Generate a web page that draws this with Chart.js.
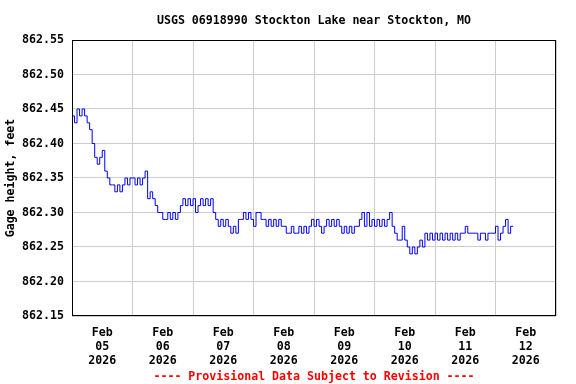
<!DOCTYPE html>
<html>
<head>
<meta charset="utf-8">
<script src="https://cdn.jsdelivr.net/npm/chart.js@4/dist/chart.umd.min.js"></script>
<style>
  html, body { margin: 0; padding: 0; background: #fff; }
  #gageChart { display: block; }
</style>
</head>
<body>
<canvas id="gageChart" width="576" height="384"></canvas>
<script>
/* Texts */
const siteTitle = 'USGS 06918990 Stockton Lake near Stockton, MO';
const yAxisLabel = 'Gage height, feet';
const footNote = '---- Provisional Data Subject to Revision ----';
const monthLabel = 'Feb';
const yearLabel = '2026';

// x axis: hours since Feb 05 2026 00:00, one label per day (at noon)
const dayLabels = ['05', '06', '07', '08', '09', '10', '11', '12'];
const yTicks = [862.15, 862.20, 862.25, 862.30, 862.35, 862.40, 862.45, 862.50, 862.55];

// gage height, one value per hour from Feb 05 00:00,
// in hundredths of a foot above 862 ft
const gageHundredths = [
  44, 43, 45, 44, 45, 44, 43, 42, 40, 38,
  37, 38, 39, 36, 35, 34, 34, 33, 34, 33,
  34, 35, 34, 35, 35, 34, 35, 34, 35, 36,
  32, 33, 32, 31, 30, 30, 29, 29, 30, 29,
  30, 29, 30, 31, 32, 31, 32, 31, 32, 30,
  31, 32, 31, 32, 31, 32, 30, 29, 28, 29,
  28, 29, 28, 27, 28, 27, 29, 29, 30, 29,
  30, 29, 28, 30, 30, 29, 29, 28, 29, 28,
  29, 28, 29, 28, 28, 27, 27, 28, 27, 27,
  28, 27, 28, 27, 28, 29, 28, 29, 28, 27,
  28, 29, 28, 29, 28, 29, 28, 27, 28, 27,
  28, 27, 28, 28, 29, 30, 28, 30, 28, 29,
  28, 29, 28, 29, 28, 29, 30, 28, 27, 26,
  26, 28, 26, 25, 24, 25, 24, 25, 26, 25,
  27, 26, 27, 26, 27, 26, 27, 26, 27, 26,
  27, 26, 27, 26, 27, 27, 28, 27, 27, 27,
  27, 26, 27, 27, 26, 27, 27, 27, 28, 26,
  27, 28, 29, 27, 28, 28
];

const gagePoints = gageHundredths.map((v, i) => ({ x: i, y: 862 + v / 100 }));
const xMax = dayLabels.length * 24;

// Font
Chart.defaults.font.family = "'DejaVu Sans Mono', 'Liberation Mono', monospace";
Chart.defaults.font.size = 11.6;
Chart.defaults.font.weight = 'bold';
Chart.defaults.color = '#000';

// black box round the plot area
const plotFrame = {
  id: 'plotFrame',
  afterDraw(chart) {
    const a = chart.chartArea;
    const ctx = chart.ctx;
    ctx.save();
    ctx.strokeStyle = '#000';
    ctx.lineWidth = 1;
    ctx.strokeRect(Math.round(a.left) + 0.5, Math.round(a.top) + 0.5,
      Math.round(a.right - a.left) - 1, Math.round(a.bottom - a.top) - 1);
    ctx.restore();
  }
};

const ctxGage = document.getElementById('gageChart').getContext('2d');

const gageChart = new Chart(ctxGage, {
  type: 'line',
  data: {
    datasets: [{
      label: 'Gage height',
      data: gagePoints,
      stepped: true,
      borderColor: '#0000ff',
      borderWidth: 1,
      pointRadius: 0,
      fill: false
    }]
  },
  plugins: [plotFrame],
  options: {
    responsive: false,
    devicePixelRatio: 1,
    animation: false,
    layout: { padding: { left: 0, right: 20, top: 0, bottom: 0 } },
    plugins: {
      legend: { display: false },
      tooltip: { enabled: false },
      title: {
        display: true,
        text: siteTitle,
        fullSize: false,
        padding: { top: 14, bottom: 12.08 }
      },
      subtitle: {
        display: true,
        text: footNote,
        position: 'bottom',
        fullSize: false,
        color: '#ff0000',
        font: { weight: 'bold' },
        padding: { top: 1.5, bottom: 0.54 }
      }
    },
    scales: {
      x: {
        type: 'linear',
        min: 0,
        max: xMax,
        afterBuildTicks: (scale) => {
          const t = [];
          for (let h = 0; h <= xMax; h += 12) t.push({ value: h });
          scale.ticks = t;
        },
        afterFit: (scale) => { scale.height = 384 - 316 - 15.96; },
        border: { display: false },
        grid: {
          drawTicks: false,
          color: (c) => (c.tick && c.tick.value % 24 === 0) ? '#cccccc' : 'rgba(0,0,0,0)'
        },
        ticks: {
          autoSkip: false,
          maxRotation: 0,
          padding: 10,
          callback: function (value) {
            if (value % 24 !== 12) return '';
            return [monthLabel, dayLabels[(value - 12) / 24], yearLabel];
          }
        }
      },
      y: {
        min: yTicks[0],
        max: yTicks[yTicks.length - 1],
        afterBuildTicks: (scale) => {
          scale.ticks = yTicks.map(v => ({ value: v }));
        },
        afterFit: (scale) => { scale.width = 72; },
        border: { display: false },
        title: {
          display: true,
          text: yAxisLabel,
          padding: { top: 4, bottom: 0 }
        },
        grid: {
          drawTicks: false,
          color: '#cccccc'
        },
        ticks: {
          padding: 8,
          callback: function (value) {
            return value.toFixed(2);
          }
        }
      }
    }
  }
});
</script>
</body>
</html>
